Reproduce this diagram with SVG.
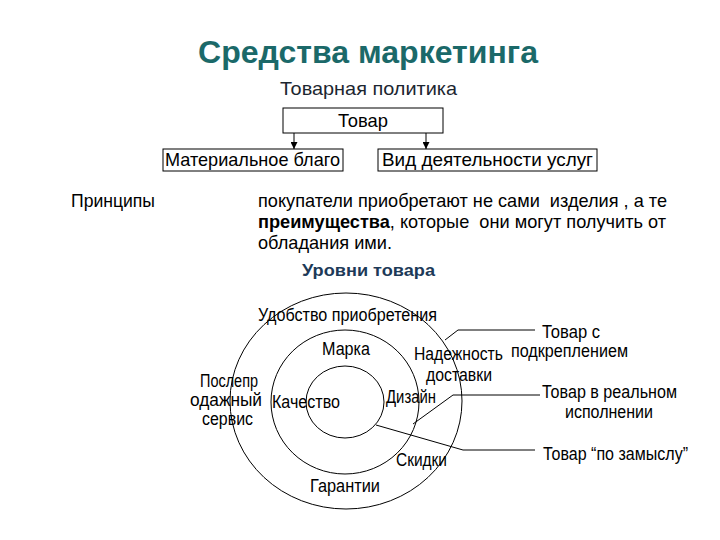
<svg xmlns="http://www.w3.org/2000/svg" width="720" height="540" viewBox="0 0 720 540">
<style>
text{font-family:"Liberation Sans",Arial,sans-serif;fill:#000;}
.t{font-size:19px;}
.c{font-size:17.5px;}
.box{fill:#fff;stroke:#000;stroke-width:1;}
.ring{fill:none;stroke:#000;stroke-width:1;}
.ln{fill:none;stroke:#000;stroke-width:1;}
</style>
<defs>
<marker id="ah" viewBox="0 0 8 8" refX="8" refY="4" markerWidth="7" markerHeight="7" markerUnits="userSpaceOnUse" orient="auto">
<path d="M0,0 L8,4 L0,8 Z" fill="#000"/>
</marker>
</defs>
<rect width="720" height="540" fill="#fff"/>
<g id="title">
<text x="198" y="63" font-size="31" font-weight="bold" style="fill:#1b6969" textLength="340" lengthAdjust="spacingAndGlyphs">Средства маркетинга</text>
</g>
<g id="subtitle">
<text x="280" y="95" font-size="19" style="fill:#1c2630" textLength="177" lengthAdjust="spacingAndGlyphs">Товарная политика</text>
</g>
<g id="n-tovar">
<rect class="box" x="283" y="108" width="160" height="25"/>
<text class="t" x="338" y="127" textLength="50" lengthAdjust="spacingAndGlyphs">Товар</text>
</g>
<g id="n-material">
<rect class="box" x="163" y="149" width="180" height="22"/>
<text class="t" x="165" y="166" textLength="175" lengthAdjust="spacingAndGlyphs">Материальное благо</text>
</g>
<g id="n-service">
<rect class="box" x="378" y="149" width="219" height="22"/>
<text class="t" x="382" y="166" textLength="211" lengthAdjust="spacingAndGlyphs">Вид деятельности услуг</text>
</g>
<g id="principles">
<text class="t" x="71" y="207" textLength="84" lengthAdjust="spacingAndGlyphs">Принципы</text>
<text class="t" x="258" y="207" textLength="409" lengthAdjust="spacingAndGlyphs" style="white-space:pre">покупатели приобретают не сами  изделия , а те</text>
<text class="t" x="258" y="228" textLength="408" lengthAdjust="spacingAndGlyphs" style="white-space:pre"><tspan font-weight="bold">преимущества</tspan>, которые  они могут получить от</text>
<text class="t" x="258" y="249" textLength="134" lengthAdjust="spacingAndGlyphs">обладания ими.</text>
</g>
<g id="levels-title">
<text x="302" y="276" font-size="17" font-weight="bold" style="fill:#1d3a58" textLength="133" lengthAdjust="spacingAndGlyphs">Уровни товара</text>
</g>
<g id="rings">
<ellipse class="ring" cx="346" cy="401" rx="116" ry="108"/>
<ellipse class="ring" cx="345" cy="402" rx="74" ry="72"/>
<ellipse class="ring" cx="345" cy="402" rx="39" ry="36"/>
</g>
<g id="ring-labels">
<text class="c" x="258" y="321" textLength="179" lengthAdjust="spacingAndGlyphs">Удобство приобретения</text>
<text class="c" x="322" y="355" textLength="48" lengthAdjust="spacingAndGlyphs">Марка</text>
<text class="c" x="414" y="360" textLength="89" lengthAdjust="spacingAndGlyphs">Надежность</text>
<text class="c" x="426" y="381" textLength="66" lengthAdjust="spacingAndGlyphs">доставки</text>
<text class="c" x="200" y="387" textLength="58" lengthAdjust="spacingAndGlyphs">Послепр</text>
<text class="c" x="190" y="406" textLength="72" lengthAdjust="spacingAndGlyphs">одажный</text>
<text class="c" x="202" y="425" textLength="51" lengthAdjust="spacingAndGlyphs">сервис</text>
<text class="c" x="272" y="408" textLength="68" lengthAdjust="spacingAndGlyphs">Качество</text>
<text class="c" x="386" y="403" textLength="50" lengthAdjust="spacingAndGlyphs">Дизайн</text>
<text class="c" x="396" y="466" textLength="51" lengthAdjust="spacingAndGlyphs">Скидки</text>
<text class="c" x="310" y="492" textLength="70" lengthAdjust="spacingAndGlyphs">Гарантии</text>
</g>
<g id="n-augmented">
<text class="c" x="542" y="338" textLength="58" lengthAdjust="spacingAndGlyphs">Товар с</text>
<text class="c" x="511" y="357" textLength="117" lengthAdjust="spacingAndGlyphs">подкреплением</text>
</g>
<g id="n-actual">
<text class="c" x="542" y="398" textLength="135" lengthAdjust="spacingAndGlyphs">Товар в реальном</text>
<text class="c" x="565" y="418" textLength="88" lengthAdjust="spacingAndGlyphs">исполнении</text>
</g>
<g id="n-core">
<text class="c" x="543" y="460" textLength="145" lengthAdjust="spacingAndGlyphs">Товар “по замыслу”</text>
</g>
<g id="connectors">
<line class="ln" x1="294" y1="133" x2="294" y2="149" marker-end="url(#ah)"/>
<line class="ln" x1="426" y1="133" x2="426" y2="149" marker-end="url(#ah)"/>
<polyline class="ln" points="445,340 458,330 535,330"/>
<polyline class="ln" points="413,424 453,395 540,395"/>
<polyline class="ln" points="376,425 463,450 535,450"/>
</g>
</svg>
